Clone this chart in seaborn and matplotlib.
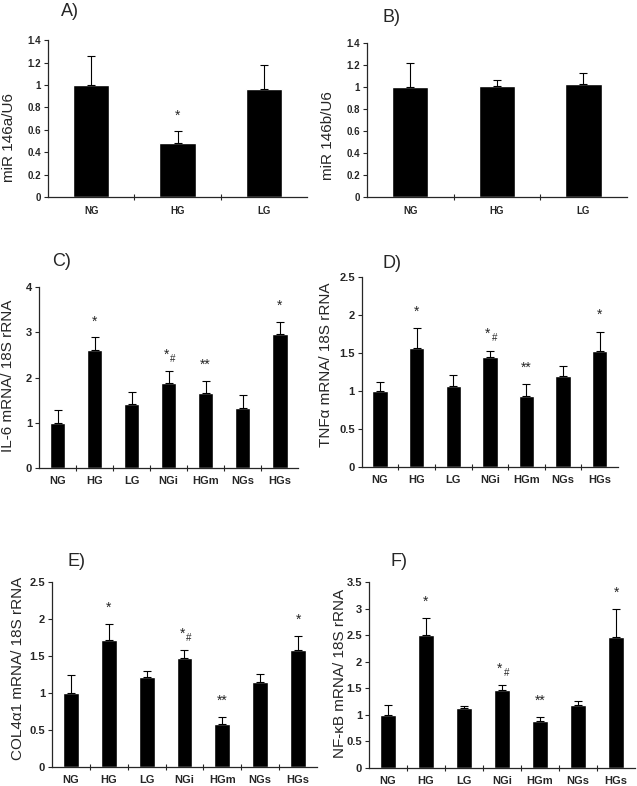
import numpy as np
import pandas as pd
import matplotlib
matplotlib.use("Agg")
import matplotlib.pyplot as plt
import seaborn as sns
from matplotlib.ticker import FuncFormatter, MultipleLocator, FixedLocator

# data
groups3 = ["NG", "HG", "LG"]
groups7 = ["NG", "HG", "LG", "NGi", "HGm", "NGs", "HGs"]

mir146a = [1.00, 0.48, 0.96]
mir146a_err = [0.26, 0.11, 0.22]
mir146a_marks = ["", "*", ""]

mir146b = [1.00, 1.01, 1.03]
mir146b_err = [0.22, 0.06, 0.10]
mir146b_marks = ["", "", ""]

il6 = [1.00, 2.62, 1.42, 1.87, 1.66, 1.33, 2.96]
il6_err = [0.28, 0.27, 0.27, 0.28, 0.27, 0.28, 0.28]

tnfa = [1.00, 1.56, 1.07, 1.45, 0.93, 1.20, 1.53]
tnfa_err = [0.12, 0.27, 0.14, 0.08, 0.16, 0.13, 0.25]

col4a1 = [1.00, 1.72, 1.22, 1.47, 0.58, 1.15, 1.58]
col4a1_err = [0.24, 0.21, 0.08, 0.11, 0.09, 0.11, 0.19]

nfkb = [1.00, 2.51, 1.12, 1.46, 0.89, 1.19, 2.46]
nfkb_err = [0.19, 0.31, 0.05, 0.10, 0.07, 0.07, 0.53]

marks7 = ["", "*", "", "*#", "**", "", "*"]

sns.set_style("ticks")
plt.rcParams["font.family"] = ["Liberation Sans", "DejaVu Sans"]

fig = plt.figure(figsize=(6.37, 7.86), dpi=100)


def panel(rect, groups, vals, errs, marks, ymax, step, ylabel, letter,
          label_xy, letter_xy, tsize=8):
    ax = fig.add_axes(rect)
    df = pd.DataFrame({"group": groups, "value": vals})
    sns.barplot(data=df, x="group", y="value", color="black", width=0.42,
                saturation=1, ax=ax)
    n = len(groups)
    ax.errorbar(np.arange(n), vals, yerr=[np.zeros(n), errs], fmt="none",
                ecolor="black", elinewidth=0.8, capsize=3, capthick=0.8)
    for i, m in enumerate(marks):
        if not m:
            continue
        top = vals[i] + errs[i] + 0.05 * ymax
        if m == "*#":
            ax.text(i - 0.06, top, "*", ha="center", va="bottom",
                    fontsize=10)
            ax.text(i + 0.12, top - 0.01 * ymax, "#", ha="center",
                    va="bottom", fontsize=7)
        else:
            ax.text(i, top, m, ha="center", va="bottom", fontsize=10)
    ax.set_xlim(-0.5, n - 0.5)
    ax.set_ylim(0, ymax)
    ax.yaxis.set_major_locator(MultipleLocator(step))
    ax.yaxis.set_major_formatter(FuncFormatter(lambda v, p: "%g" % round(v, 2)))
    ax.xaxis.set_minor_locator(FixedLocator(np.arange(n - 1) + 0.5))
    ax.tick_params(axis="x", which="major", length=0, pad=6)
    ax.tick_params(axis="x", which="minor", length=4, direction="inout",
                   width=0.8)
    ax.tick_params(axis="y", length=3, width=0.8, pad=2)
    for lab in ax.get_xticklabels() + ax.get_yticklabels():
        lab.set_fontweight("bold")
        lab.set_fontsize(tsize)
    sns.despine(ax=ax)
    for s in ["left", "bottom"]:
        ax.spines[s].set_linewidth(0.9)
    ax.set_xlabel("")
    ax.set_ylabel(ylabel, fontsize=11)
    ax.yaxis.set_label_coords(*label_xy)
    ax.text(letter_xy[0], letter_xy[1], letter, transform=ax.transAxes,
            fontsize=13, ha="left", va="center")
    return ax


panel([0.0754, 0.749, 0.4065, 0.200], groups3, mir146a, mir146a_err,
      mir146a_marks, 1.4, 0.2, "miR 146a/U6", "A)", (-0.122, 0.38),
      (0.05, 1.18), tsize=7)
panel([0.576, 0.749, 0.408, 0.196], groups3, mir146b, mir146b_err,
      mir146b_marks, 1.4, 0.2, "miR 146b/U6", "B)", (-0.123, 0.40),
      (0.06, 1.17), tsize=7)
panel([0.0612, 0.4046, 0.407, 0.230], groups7, il6, il6_err, marks7,
      4, 1, "IL-6 mRNA/ 18S rRNA", "C)", (-0.093, 0.51), (0.05, 1.14))
panel([0.568, 0.406, 0.402, 0.2417], groups7, tnfa, tnfa_err, marks7,
      2.5, 0.5, "TNFα mRNA/ 18S rRNA", "D)", (-0.113, 0.54), (0.08, 1.07))
panel([0.0816, 0.0242, 0.416, 0.2354], groups7, col4a1, col4a1_err, marks7,
      2.5, 0.5, "COL4α1 mRNA/ 18S rRNA", "E)", (-0.102, 0.535), (0.06, 1.11))
panel([0.579, 0.0229, 0.418, 0.2366], groups7, nfkb, nfkb_err, marks7,
      3.5, 0.5, "NF-κB mRNA/ 18S rRNA", "F)", (-0.083, 0.51), (0.08, 1.11))

fig.savefig("out.png", dpi=100)
